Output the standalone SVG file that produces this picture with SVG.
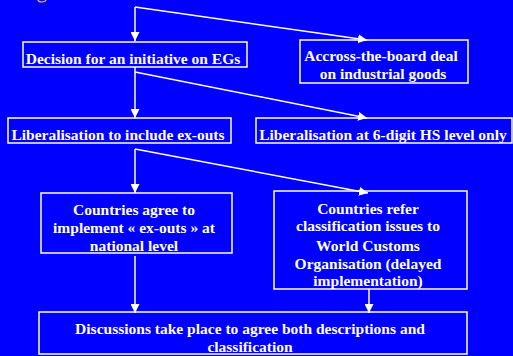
<svg xmlns="http://www.w3.org/2000/svg" width="513" height="356" viewBox="0 0 513 356">
<defs>
<marker id="ah" markerWidth="9" markerHeight="9" viewBox="0 0 9 9" refX="9" refY="4.5" orient="auto" markerUnits="userSpaceOnUse">
<path d="M0,0 L9,4.5 L0,9 Z" fill="#FFFFFF"/>
</marker>
<style>
.box{fill:none;stroke:#FFFFFF;stroke-width:1.5}
.t{font-family:"Liberation Serif","Times New Roman",serif;font-weight:bold;font-size:15.5px;fill:#FFFFFF;text-anchor:middle}
.c{fill:none;stroke:#FFFFFF;stroke-width:1.5}
</style>
</defs>
<rect x="0" y="0" width="513" height="356" fill="#0000FF"/>
<ellipse cx="42" cy="-0.5" rx="4" ry="2.5" fill="none" stroke="#E8D000" stroke-width="1.2"/>
<g id="connectors">
<path class="c" d="M135,7 L135,41" marker-end="url(#ah)"/>
<path class="c" d="M135,7 L367,40" marker-end="url(#ah)"/>
<path class="c" d="M135,67 L135,118" marker-end="url(#ah)"/>
<path class="c" d="M135,72 L367,118" marker-end="url(#ah)"/>
<path class="c" d="M135,149 L135,193" marker-end="url(#ah)"/>
<path class="c" d="M135,149 L368,193" marker-end="url(#ah)"/>
<path class="c" d="M135,256 L135,313" marker-end="url(#ah)"/>
<path class="c" d="M369,289 L369,313" marker-end="url(#ah)"/>
</g>
<g id="n1">
<rect class="box" x="23" y="42" width="224" height="25"/>
<text class="t" x="133" y="63.5">Decision for an initiative on EGs</text>
</g>
<g id="n2">
<rect class="box" x="300" y="40" width="168" height="43"/>
<text class="t" x="381" y="61">Accross-the-board deal</text>
<text class="t" x="383" y="79">on industrial goods</text>
</g>
<g id="n3">
<rect class="box" x="8" y="118" width="223" height="25"/>
<text class="t" x="118" y="140">Liberalisation to include ex-outs</text>
</g>
<g id="n4">
<rect class="box" x="256" y="118" width="256" height="25"/>
<text class="t" x="383" y="140">Liberalisation at 6-digit HS level only</text>
</g>
<g id="n5">
<rect class="box" x="41" y="193" width="191" height="60"/>
<text class="t" x="134" y="214.5">Countries agree to</text>
<text class="t" x="134" y="232.5">implement « ex-outs » at</text>
<text class="t" x="134" y="250.5">national level</text>
</g>
<g id="n6">
<rect class="box" x="274" y="191" width="193" height="98"/>
<text class="t" x="368" y="213.5">Countries refer</text>
<text class="t" x="368" y="230.5">classification issues to</text>
<text class="t" x="368" y="250.5">World Customs</text>
<text class="t" x="368" y="268.5">Organisation (delayed</text>
<text class="t" x="368" y="286">implementation)</text>
</g>
<g id="n7">
<rect class="box" x="39" y="312" width="428" height="42"/>
<text class="t" x="250" y="333.5">Discussions take place to agree both descriptions and</text>
<text class="t" x="250" y="352">classification</text>
</g>
</svg>
